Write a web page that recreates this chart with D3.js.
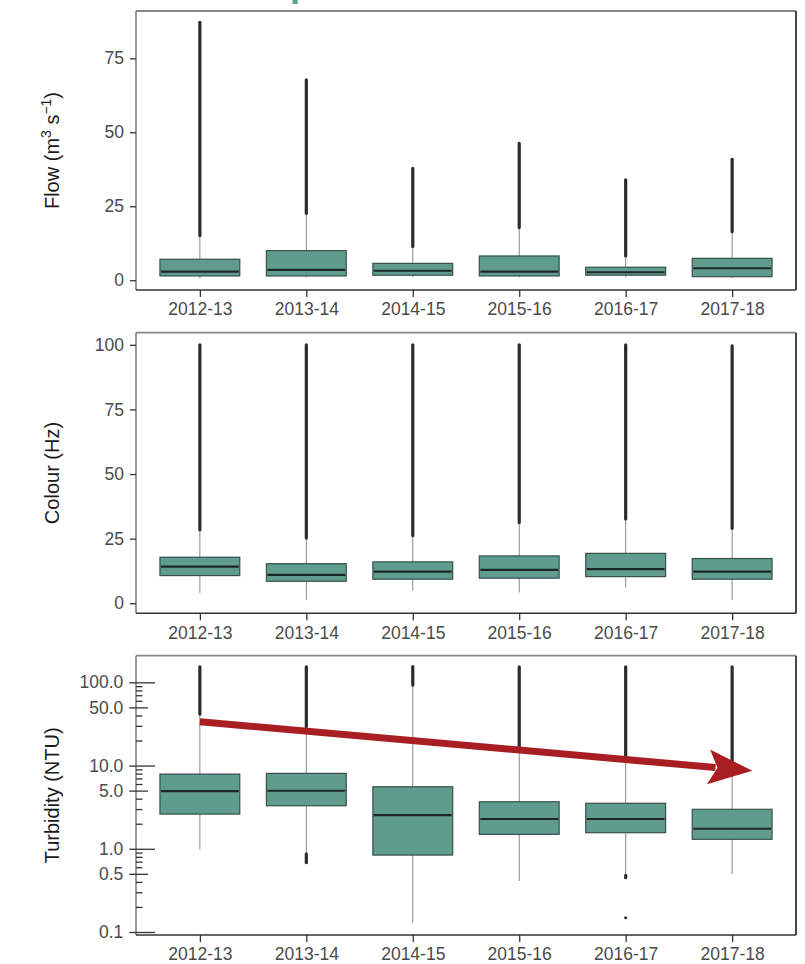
<!DOCTYPE html>
<html>
<head>
<meta charset="utf-8">
<script src="https://cdn.jsdelivr.net/npm/d3@7"></script>
<style>
  body { margin: 0; background: #fff; }
  svg { display: block; font-family: "Liberation Sans", Arial, sans-serif; }
</style>
</head>
<body>
<svg width="805" height="964"></svg>
<script>
// categories
const years = ["2012-13", "2013-14", "2014-15", "2015-16", "2016-17", "2017-18"];

// Flow (m3 s-1): lower whisker, q1, median, q3, upper whisker, top of outliers
const flowLo  = [0.7, 1.0, 1.0, 1.0, 1.0, 0.7];
const flowQ1  = [1.45, 1.45, 1.7, 1.45, 1.7, 1.2];
const flowMed = [2.9, 3.5, 3.2, 2.9, 2.7, 4.05];
const flowQ3  = [7.1, 10.0, 5.7, 8.2, 4.4, 7.4];
const flowHi  = [15.1, 22.6, 11.4, 17.8, 8.2, 16.4];
const flowMax = [87.2, 67.7, 37.8, 46.3, 33.9, 40.9];
const flowTicks = [0, 25, 50, 75];

// Colour (Hz)
const colLo  = [3.9, 1.3, 4.9, 4.1, 6.0, 1.3];
const colQ1  = [10.7, 8.5, 9.3, 9.7, 10.3, 9.3];
const colMed = [14.2, 11.0, 12.2, 12.9, 13.2, 12.2];
const colQ3  = [17.8, 15.3, 16.0, 18.3, 19.3, 17.3];
const colHi  = [28.4, 25.2, 26.2, 31.2, 32.6, 29.0];
const colMax = [100, 100, 100, 100, 100, 99.6];
const colTicks = [0, 25, 50, 75, 100];

// Turbidity (NTU)
const turLo  = [0.98, 0.9, 0.129, 0.41, 0.50, 0.50];
const turQ1  = [2.61, 3.29, 0.84, 1.49, 1.56, 1.30];
const turMed = [4.94, 4.98, 2.54, 2.28, 2.28, 1.74];
const turQ3  = [7.9, 8.05, 5.56, 3.67, 3.52, 2.98];
const turHi  = [41.6, 29.3, 92.8, 16.5, 12.8, 10.0];
const turMax = [154, 154, 155, 154, 154, 154];
const turLowOutTop = [null, 0.87, null, null, 0.48, null];
const turLowOutBot = [null, 0.68, null, null, 0.45, null];
const turSingles = [{ year: "2016-17", v: 0.148 }];
const turMajor = [0.1, 1, 10, 100];
const turMajorLabels = ["0.1", "1.0", "10.0", "100.0"];
const turMid = [0.5, 5, 50];
const turMidLabels = ["0.5", "5.0", "50.0"];
const turMinor = [0.2, 0.3, 0.4, 0.6, 0.7, 0.8, 0.9, 2, 3, 4, 6, 7, 8, 9, 20, 30, 40, 60, 70, 80, 90];

// trend arrow, in (category index, NTU)
const arrowFrom = [0, 33.6];
const arrowTo = [5.19, 8.65];

var svg = d3.select("svg");
var left = 136, right = 796;

var x = d3.scalePoint().domain(years).range([left, right]).padding(0.6);
var boxW = x.step() * 0.75;

const teal = "#5f9c8d";

// cut off title fragment at the top
svg.append("text")
    .attr("x", 289.8).attr("y", -4)
    .attr("font-size", 38).attr("font-weight", "bold")
    .attr("fill", "#5fa394")
    .text("p");

function frame(top, bottom) {
    svg.append("line").attr("x1", left).attr("x2", right).attr("y1", top).attr("y2", top)
        .attr("stroke", "#888").attr("stroke-width", 1.8);
    svg.append("line").attr("x1", left).attr("x2", left).attr("y1", top).attr("y2", bottom)
        .attr("stroke", "#777").attr("stroke-width", 1.5);
    svg.append("line").attr("x1", left).attr("x2", right).attr("y1", bottom).attr("y2", bottom)
        .attr("stroke", "#333").attr("stroke-width", 1.6);
    svg.append("line").attr("x1", right).attr("x2", right).attr("y1", top).attr("y2", bottom)
        .attr("stroke", "#333").attr("stroke-width", 1.8);
}

function xAxis(bottom) {
    var g = svg.append("g")
        .attr("transform", "translate(0," + bottom + ")")
        .call(d3.axisBottom(x).tickSize(7).tickPadding(6));
    g.select(".domain").remove();
    g.selectAll("line").attr("stroke", "#333").attr("stroke-width", 1.3);
    g.selectAll("text").attr("font-size", 17.5).attr("fill", "#4a4a4a")
        .attr("font-family", "Liberation Sans, Arial, sans-serif");
}

function yTitle(top, bottom, build) {
    var t = svg.append("text")
        .attr("transform", "translate(59," + ((top + bottom) / 2) + ") rotate(-90)")
        .attr("text-anchor", "middle")
        .attr("font-size", 20)
        .attr("fill", "#1a1a1a");
    build(t);
}

function boxes(y, lo, q1, med, q3, hi, mx) {
    var g = svg.append("g");
    var rows = years.map(function (d, i) {
        return { year: d, lo: lo[i], q1: q1[i], med: med[i], q3: q3[i], hi: hi[i], max: mx[i] };
    });
    // thin whiskers
    g.selectAll(".wh").data(rows).enter().append("line")
        .attr("x1", d => x(d.year)).attr("x2", d => x(d.year))
        .attr("y1", d => y(d.lo)).attr("y2", d => y(d.hi))
        .attr("stroke", "#8a8a8a").attr("stroke-width", 1);
    // dense outliers, drawn as a column
    g.selectAll(".out").data(rows).enter().append("line")
        .attr("x1", d => x(d.year)).attr("x2", d => x(d.year))
        .attr("y1", d => y(d.hi)).attr("y2", d => y(d.max))
        .attr("stroke", "#2b2b2b").attr("stroke-width", 3.2)
        .attr("stroke-linecap", "round");
    g.selectAll(".box").data(rows).enter().append("rect")
        .attr("x", d => x(d.year) - boxW / 2)
        .attr("width", boxW)
        .attr("y", d => y(d.q3))
        .attr("height", d => y(d.q1) - y(d.q3))
        .attr("fill", teal)
        .attr("stroke", "#37504a").attr("stroke-width", 1.2);
    g.selectAll(".med").data(rows).enter().append("line")
        .attr("x1", d => x(d.year) - boxW / 2 + 1).attr("x2", d => x(d.year) + boxW / 2 - 1)
        .attr("y1", d => y(d.med)).attr("y2", d => y(d.med))
        .attr("stroke", "#1d2826").attr("stroke-width", 2.2);
    return g;
}

function styleYAxis(g) {
    g.select(".domain").remove();
    g.selectAll("line").attr("stroke", "#333").attr("stroke-width", 1.3);
    g.selectAll("text").attr("font-size", 17.5).attr("fill", "#4a4a4a")
        .attr("font-family", "Liberation Sans, Arial, sans-serif");
}

// ---- panel 1: Flow
var p1 = { top: 11, bottom: 290 };
var y1 = d3.scaleLinear().domain([-3.3, 91]).range([p1.bottom, p1.top]);
boxes(y1, flowLo, flowQ1, flowMed, flowQ3, flowHi, flowMax);
frame(p1.top, p1.bottom);
styleYAxis(svg.append("g").attr("transform", "translate(" + left + ",0)")
    .call(d3.axisLeft(y1).tickValues(flowTicks).tickSize(6).tickPadding(6)));
xAxis(p1.bottom);
yTitle(p1.top, p1.bottom, function (t) {
    t.append("tspan").text("Flow (m");
    t.append("tspan").attr("baseline-shift", "super").attr("font-size", 14).text("3");
    t.append("tspan").text(" s");
    t.append("tspan").attr("baseline-shift", "super").attr("font-size", 14).text("\u22121");
    t.append("tspan").text(")");
});

// ---- panel 2: Colour
var p2 = { top: 332.7, bottom: 613.3 };
var y2 = d3.scaleLinear().domain([-3.9, 104.7]).range([p2.bottom, p2.top]);
boxes(y2, colLo, colQ1, colMed, colQ3, colHi, colMax);
frame(p2.top, p2.bottom);
styleYAxis(svg.append("g").attr("transform", "translate(" + left + ",0)")
    .call(d3.axisLeft(y2).tickValues(colTicks).tickSize(6).tickPadding(6)));
xAxis(p2.bottom);
yTitle(p2.top, p2.bottom, function (t) { t.text("Colour (Hz)"); });

// ---- panel 3: Turbidity (log)
var p3 = { top: 655.7, bottom: 935 };
var y3 = d3.scaleLog().domain([0.092, 209]).range([p3.bottom, p3.top]);
var g3 = boxes(y3, turLo, turQ1, turMed, turQ3, turHi, turMax);
// low outliers
var lowRows = years.map((d, i) => ({ year: d, top: turLowOutTop[i], bot: turLowOutBot[i] }))
    .filter(d => d.top != null);
g3.selectAll(".lowout").data(lowRows).enter().append("line")
    .attr("x1", d => x(d.year)).attr("x2", d => x(d.year))
    .attr("y1", d => y3(d.top)).attr("y2", d => y3(d.bot))
    .attr("stroke", "#2b2b2b").attr("stroke-width", 3.2).attr("stroke-linecap", "round");
g3.selectAll(".single").data(turSingles).enter().append("circle")
    .attr("cx", d => x(d.year)).attr("cy", d => y3(d.v)).attr("r", 1.5)
    .attr("fill", "#2b2b2b");
frame(p3.top, p3.bottom);

var minorAx = svg.append("g").attr("transform", "translate(" + left + ",0)")
    .call(d3.axisLeft(y3).tickValues(turMinor).tickSize(-6.5).tickFormat(""));
styleYAxis(minorAx);
var majorAx = svg.append("g").attr("transform", "translate(" + left + ",0)")
    .call(d3.axisLeft(y3).tickValues(turMajor).tickSize(6.7).tickPadding(6)
        .tickFormat((d, i) => turMajorLabels[i]));
styleYAxis(majorAx);
majorAx.selectAll("line").attr("x1", 19);
var midAx = svg.append("g").attr("transform", "translate(" + left + ",0)")
    .call(d3.axisLeft(y3).tickValues(turMid).tickSize(6.7).tickPadding(6)
        .tickFormat((d, i) => turMidLabels[i]));
styleYAxis(midAx);
midAx.selectAll("line").attr("x1", 12);
xAxis(p3.bottom);
yTitle(p3.top, p3.bottom, function (t) { t.text("Turbidity (NTU)"); });

// trend arrow
var xi = d3.scaleLinear().domain([0, years.length - 1]).range([x(years[0]), x(years[years.length - 1])]);
var ax0 = xi(arrowFrom[0]), ay0 = y3(arrowFrom[1]);
var ax1 = xi(arrowTo[0]), ay1 = y3(arrowTo[1]);
var len = Math.hypot(ax1 - ax0, ay1 - ay0);
var ux = (ax1 - ax0) / len, uy = (ay1 - ay0) / len;
var headL = 41, headW = 17.5;
var bx = ax1 - ux * headL, by = ay1 - uy * headL;
const red = "#a81e23";
svg.append("line")
    .attr("x1", ax0).attr("y1", ay0)
    .attr("x2", bx + ux * 4).attr("y2", by + uy * 4)
    .attr("stroke", red).attr("stroke-width", 7);
svg.append("path")
    .attr("d", d3.line()([
        [ax1, ay1],
        [bx - uy * headW - ux * 3, by + ux * headW - uy * 3],
        [bx + ux * 6, by + uy * 6],
        [bx + uy * headW - ux * 3, by - ux * headW - uy * 3]
    ]) + "Z")
    .attr("fill", red);
</script>
</body>
</html>
